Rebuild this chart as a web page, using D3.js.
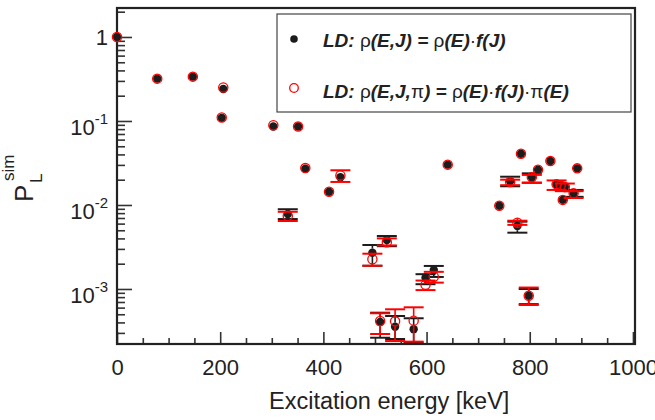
<!DOCTYPE html>
<html>
<head>
<meta charset="utf-8">
<script src="https://cdn.jsdelivr.net/npm/d3@7"></script>
<style>
  body { margin: 0; background: #fff; }
  text { font-family: "Liberation Sans", Arial, Helvetica, sans-serif; fill: #222; }
</style>
</head>
<body>
<script>
// level energies [keV]
var energy = [0, 78, 147, 203, 206, 303, 331, 351, 365, 411, 433, 495, 510, 523, 539, 575, 598, 614,
  641, 741, 762, 776, 783, 798, 804, 816, 840, 852, 860, 864, 868, 885, 892];

// LD: rho(E,J) = rho(E) f(J)
var pJ = [1, 0.319, 0.337, 0.109, 0.240, 0.086, 0.0078, 0.086, 0.027, 0.0144, 0.0214, 0.0027, 0.000405,
  0.00383, 0.000356, 0.000331, 0.00136, 0.00168, 0.0302, 0.0098, 0.0191, 0.00562, 0.0408, 0.000832,
  0.0214, 0.0263, 0.0334, 0.0176, 0.0170, 0.0115, 0.0164, 0.0138, 0.0273];
var pJLow = [null, null, null, null, null, null, 0.0068, null, null, null, null, 0.00189, 0.000263,
  0.00323, 0.000254, 0.00023, 0.00114, 0.00139, null, null, 0.0167, 0.00468, null, 0.00066,
  0.0184, null, null, null, null, null, null, 0.0125, null];
var pJHigh = [null, null, null, null, null, null, 0.0089, null, null, null, null, 0.00334, 0.000522,
  0.00427, 0.000477, 0.000448, 0.0015, 0.00188, null, null, 0.0217, 0.00633, null, 0.00100,
  0.0238, null, null, null, null, null, null, 0.0151, null];

// LD: rho(E,J,pi) = rho(E) f(J) pi(E)
var pJPi = [1, 0.319, 0.337, 0.110, 0.250, 0.089, 0.0074, 0.086, 0.0275, 0.0144, 0.0225, 0.00226, 0.000416,
  0.0036, 0.000412, 0.00042, 0.00112, 0.0014, 0.0302, 0.0098, 0.0188, 0.00615, 0.0408, 0.000832,
  0.0214, 0.0263, 0.0334, 0.0176, 0.0170, 0.0115, 0.0164, 0.0138, 0.0273];
var pJPiLow = [null, null, null, null, null, null, 0.00645, null, null, null, 0.0188, 0.00189, 0.000291,
  0.0033, 0.00024, 0.000236, 0.00097, 0.00119, null, null, 0.0172, 0.0058, null, 0.000645,
  0.0184, null, null, 0.0151, null, null, 0.0146, 0.0121, null];
var pJPiHigh = [null, null, null, null, null, null, 0.0083, null, null, null, 0.0259, 0.00263, 0.000514,
  0.0040, 0.000573, 0.000605, 0.00126, 0.0016, null, null, 0.0200, 0.0065, null, 0.00104,
  0.0228, null, null, 0.0196, null, null, 0.0180, 0.0146, null];

var xMajor = [0, 200, 400, 600, 800, 1000];
var yMajor = [1, 0.1, 0.01, 0.001];

var W = 655, H = 420;
var frame = {left: 117, right: 635, top: 8, bottom: 344};

var svg = d3.select("body").append("svg")
  .attr("width", W)
  .attr("height", H);

var x = d3.scaleLinear().domain([0, 1004]).range([frame.left, frame.right]);
var y = d3.scaleLog().domain([Math.pow(10, -3.655), Math.pow(10, 0.345)]).range([frame.bottom, frame.top]);

// minor tick values
var xMinor = d3.range(0, 1001, 50).filter(v => v % 200 != 0);
var yMinor = [];
[-4, -3, -2, -1, 0].forEach(function(d) {
  for (var m = 2; m <= 9; m++) {
    var v = m * Math.pow(10, d);
    if (v > y.domain()[0] && v < y.domain()[1]) yMinor.push(v);
  }
});

// axes (ticks point inward)
function styleAxis(g) {
  g.select(".domain").remove();
  g.selectAll("line").attr("stroke", "#333").attr("stroke-width", 1.6);
}

svg.append("g")
  .attr("transform", "translate(0," + frame.bottom + ")")
  .call(d3.axisBottom(x).tickValues(xMinor).tickSize(-6).tickFormat(""))
  .call(styleAxis);

var xAxis = svg.append("g")
  .attr("transform", "translate(0," + frame.bottom + ")")
  .call(d3.axisBottom(x).tickValues(xMajor).tickSize(-12).tickPadding(15).tickFormat(d3.format("d")))
  .call(styleAxis);
xAxis.selectAll("text")
  .attr("font-size", "22px")
  .attr("fill", "#222")
  .attr("font-family", "Liberation Sans, Arial, sans-serif");

svg.append("g")
  .attr("transform", "translate(" + frame.left + ",0)")
  .call(d3.axisLeft(y).tickValues(yMinor).tickSize(-8).tickFormat(""))
  .call(styleAxis);

svg.append("g")
  .attr("transform", "translate(" + frame.left + ",0)")
  .call(d3.axisLeft(y).tickValues(yMajor).tickSize(-15).tickFormat(""))
  .call(styleAxis);

// y tick labels 1, 10^-1 ...
yMajor.forEach(function(v) {
  var e = Math.round(Math.log10(v));
  if (e == 0) {
    svg.append("text")
      .attr("x", 108).attr("y", y(v) + 8)
      .attr("text-anchor", "end")
      .attr("font-size", "22px")
      .text("1");
  } else {
    var t = svg.append("text")
      .attr("x", 108).attr("y", y(v) + 14.5)
      .attr("text-anchor", "end")
      .attr("font-size", "22px");
    t.append("tspan").text("10");
    t.append("tspan").attr("font-size", "15px").attr("dy", -11.5).text(e);
  }
});

// frame
svg.append("rect")
  .attr("x", frame.left).attr("y", frame.top)
  .attr("width", frame.right - frame.left)
  .attr("height", frame.bottom - frame.top)
  .attr("fill", "none")
  .attr("stroke", "#222")
  .attr("stroke-width", 2.2);

// axis titles
svg.append("text")
  .attr("x", 269).attr("y", 409)
  .attr("font-size", "23.5px")
  .text("Excitation energy [keV]");

var yt = svg.append("g").attr("transform", "translate(33,202) rotate(-90)");
yt.append("text").attr("x", 0).attr("y", 0).attr("font-size", "26px").text("P");
yt.append("text").attr("x", 19).attr("y", 9).attr("font-size", "17px").text("L");
yt.append("text").attr("x", 21).attr("y", -19).attr("font-size", "17px").text("sim");

// error bars + markers
var cap = 10;
function drawSeries(vals, lo, hi, color, r, filled) {
  var g = svg.append("g");
  energy.forEach(function(e, i) {
    if (lo[i] == null) return;
    var cx = x(e), cy = y(vals[i]);
    g.append("line").attr("x1", cx).attr("x2", cx).attr("y1", y(hi[i])).attr("y2", Math.min(cy - r, y(lo[i])))
      .attr("stroke", color).attr("stroke-width", 1.6);
    g.append("line").attr("x1", cx).attr("x2", cx).attr("y1", Math.max(cy + r, y(hi[i]))).attr("y2", y(lo[i]))
      .attr("stroke", color).attr("stroke-width", 1.6);
    [lo[i], hi[i]].forEach(function(b) {
      g.append("line").attr("x1", cx - cap).attr("x2", cx + cap).attr("y1", y(b)).attr("y2", y(b))
        .attr("stroke", color).attr("stroke-width", 2);
    });
  });
  g.selectAll("circle")
    .data(energy)
    .enter()
    .append("circle")
    .attr("cx", d => x(d))
    .attr("cy", (d, i) => y(vals[i]))
    .attr("r", r)
    .attr("fill", filled ? color : "none")
    .attr("stroke", filled ? "none" : color)
    .attr("stroke-width", 1.3);
}

drawSeries(pJ, pJLow, pJHigh, "#1c1c1c", 4.2, true);
drawSeries(pJPi, pJPiLow, pJPiHigh, "#ff0000", 4.6, false);

// legend
svg.append("rect")
  .attr("x", 277).attr("y", 14)
  .attr("width", 354).attr("height", 98)
  .attr("fill", "#fff")
  .attr("stroke", "#444")
  .attr("stroke-width", 1.2);

svg.append("circle").attr("cx", 294).attr("cy", 39).attr("r", 3.8).attr("fill", "#1c1c1c");
svg.append("circle").attr("cx", 294).attr("cy", 88).attr("r", 4.3)
  .attr("fill", "none").attr("stroke", "#ff0000").attr("stroke-width", 1.3);

function legendLine(yb, parts) {
  var t = svg.append("text").attr("x", 323).attr("y", yb).attr("font-size", "19px");
  parts.forEach(function(p) {
    var s = t.append("tspan").text(p[0]);
    if (p[1]) s.attr("font-weight", "bold").attr("font-style", "italic");
  });
}
legendLine(46.5, [["LD: ", 1], ["\u03c1", 0], ["(E,J) = ", 1], ["\u03c1", 0], ["(E)", 1], ["\u00b7", 0], ["f(J)", 1]]);
legendLine(98, [["LD: ", 1], ["\u03c1", 0], ["(E,J,", 1], ["\u03c0", 0], [") = ", 1], ["\u03c1", 0], ["(E)", 1],
  ["\u00b7", 0], ["f(J)", 1], ["\u00b7", 0], ["\u03c0", 0], ["(E)", 1]]);
</script>
</body>
</html>
